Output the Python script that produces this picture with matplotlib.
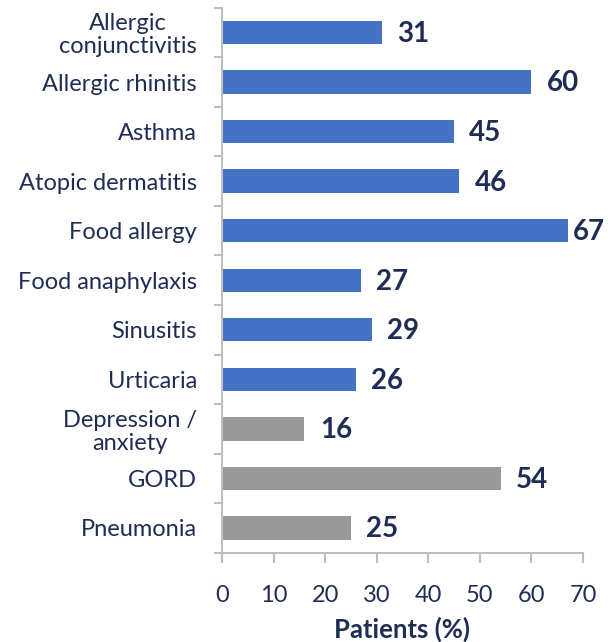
import matplotlib.pyplot as plt
import numpy as np

plt.rcParams['font.family'] = ['Lato', 'DejaVu Sans']

# Data
conditions = ["Allergic\nconjunctivitis", "Allergic rhinitis", "Asthma", "Atopic dermatitis",
              "Food allergy", "Food anaphylaxis", "Sinusitis", "Urticaria",
              "Depression /\nanxiety", "GORD", "Pneumonia"]
patients = [31, 60, 45, 46, 67, 27, 29, 26, 16, 54, 25]
allergic = [True] * 8 + [False] * 3

blue = '#4472C4'
grey = '#999999'
navy = '#1F2D55'
axis_grey = '#BFBFBF'

fig = plt.figure(figsize=(6.08, 6.42), dpi=100)
ax = fig.add_axes([0.365, 0.139, 0.594, 0.849])

y = np.arange(len(conditions))
colors = [blue if a else grey for a in allergic]
ax.barh(y, patients, height=0.47, color=colors)

for yi, v in zip(y, patients):
    off = 4 if v > 64 else 11
    ax.annotate(str(v), (v, yi), xytext=(off, -1), textcoords='offset points',
                ha='left', va='center', fontsize=20, fontweight='bold', color=navy)

ax.set_xlim(0, 70)
ax.set_ylim(len(conditions) - 0.5, -0.5)
ax.set_xticks(np.arange(0, 71, 10))
ax.set_xlabel('Patients (%)', fontsize=18.5, fontweight='bold', color=navy, labelpad=8)

ax.set_yticks(y)
ax.set_yticklabels(conditions, fontsize=17, color=navy, multialignment='center',
                   linespacing=1.1)
ax.set_yticks(np.arange(-0.5, len(conditions)), minor=True)
ax.tick_params(axis='y', which='major', length=0, pad=18)
ax.tick_params(axis='y', which='minor', length=6, color=axis_grey, width=1.5)
ax.tick_params(axis='x', length=7, color=axis_grey, width=1.5, labelsize=17,
               labelcolor=navy, pad=16)

for s in ['top', 'right']:
    ax.spines[s].set_visible(False)
for s in ['left', 'bottom']:
    ax.spines[s].set_color(axis_grey)
    ax.spines[s].set_linewidth(1.5)

fig.savefig('out.png', dpi=100)
